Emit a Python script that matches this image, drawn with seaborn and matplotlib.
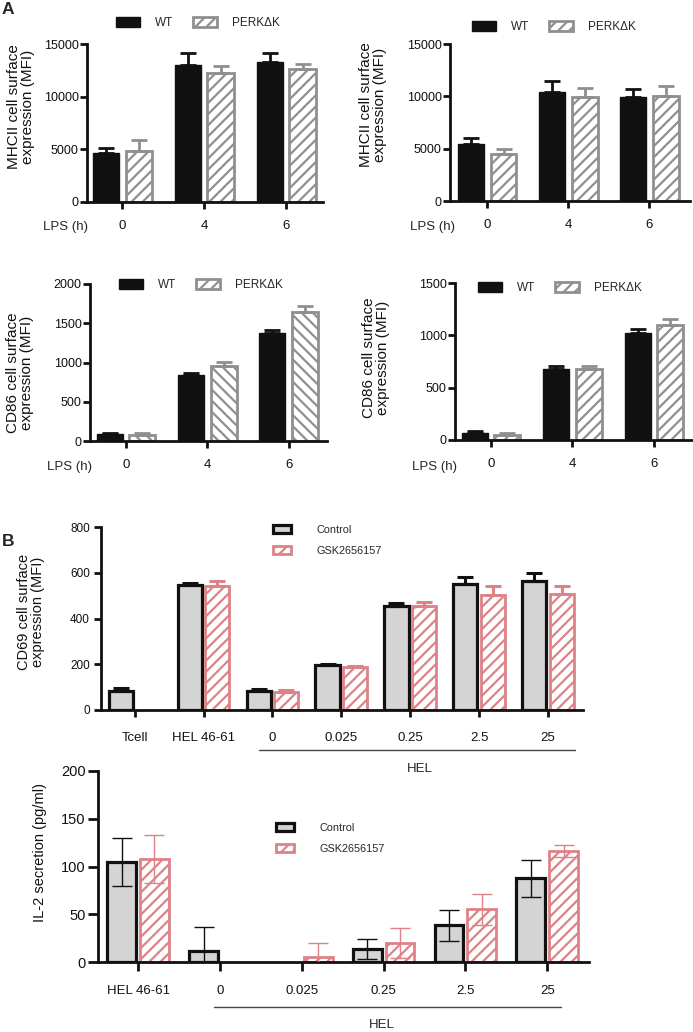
import numpy as np
import pandas as pd
import matplotlib
matplotlib.use("Agg")
import matplotlib.pyplot as plt
import seaborn as sns
from matplotlib.patches import Patch

# ---------------- data ----------------
lps_hours = ["0", "4", "6"]

mhc1_wt = [4680, 13050, 13280]
mhc1_wt_err = [470, 1050, 880]
mhc1_perk = [4870, 12220, 12600]
mhc1_perk_err = [1020, 650, 530]

mhc2_wt = [5450, 10410, 9960]
mhc2_wt_err = [600, 1020, 770]
mhc2_perk = [4490, 9900, 10030]
mhc2_perk_err = [480, 870, 980]

cd86a_wt = [85, 837, 1380]
cd86a_wt_err = [20, 30, 35]
cd86a_perk = [78, 960, 1647]
cd86a_perk_err = [22, 42, 77]

cd86b_wt = [70, 677, 1027]
cd86b_wt_err = [13, 28, 33]
cd86b_perk = [51, 677, 1101]
cd86b_perk_err = [13, 28, 57]

cd69_cats = ["Tcell", "HEL 46-61", "0", "0.025", "0.25", "2.5", "25"]
cd69_ctrl = [82, 548, 82, 196, 454, 551, 565]
cd69_ctrl_err = [14, 7, 10, 7, 14, 30, 36]
cd69_gsk = [np.nan, 541, 77, 187, 456, 503, 509]
cd69_gsk_err = [np.nan, 22, 12, 7, 17, 38, 33]

il2_cats = ["HEL 46-61", "0", "0.025", "0.25", "2.5", "25"]
il2_ctrl = [105, 11, np.nan, 14, 38.5, 87.5]
il2_ctrl_err = [25, 25.5, np.nan, 10.5, 16, 19]
il2_gsk = [108, np.nan, 5.5, 20, 55, 116]
il2_gsk_err = [25, np.nan, 14, 16, 16.5, 6.5]

groups_a = ["WT", "PERKΔK"]
groups_b = ["Control", "GSK2656157"]

# ---------------- style ----------------
sns.set_theme(style="ticks")
plt.rcParams["font.family"] = ["Liberation Sans", "DejaVu Sans"]
plt.rcParams["hatch.linewidth"] = 1.6
plt.rcParams["axes.linewidth"] = 2.0

BLACK = "#111111"
GREY = "#8f8f8f"
CTRL_FILL = "#d4d4d4"
PINK = "#dd8287"

W, H = 693, 1032
fig = plt.figure(figsize=(W / 100, H / 100), dpi=100)


def px_axes(l, t, r, b):
    return fig.add_axes([l / W, 1 - b / H, (r - l) / W, (b - t) / H])


def draw_panel(ax, cats, names, vals, errs, styles, gap, ylim, yticks, xlim,
               both_err=False, err_lw=2.0, capsize=6, ylab="", ylab_xy=(0, 0),
               ylab_size=11, ytick_size=9, xtick_size=9.5, xpad=8,
               xtick_len=5, ytick_len=5, ypad=1):
    rows = []
    for name, v, e in zip(names, vals, errs):
        for c, vi, ei in zip(cats, v, e):
            if not np.isnan(vi):
                rows.append({"cat": c, "val": vi, "err": ei, "grp": name})
    df = pd.DataFrame(rows)
    pal = {n: styles[n]["face"] for n in names}
    sns.barplot(data=df, x="cat", y="val", hue="grp", order=cats,
                hue_order=names, width=0.8, gap=gap, errorbar=None,
                palette=pal, saturation=1, legend=False, ax=ax, zorder=2)
    err_lookup = {(r["cat"], r["grp"]): r["err"] for r in rows}
    for cont, name in zip(ax.containers, names):
        st = styles[name]
        for bar in cont:
            bar.set_facecolor(st["face"])
            bar.set_edgecolor(st["edge"])
            bar.set_linewidth(st["lw"])
            if st.get("hatch"):
                bar.set_hatch(st["hatch"])
            cx = bar.get_x() + bar.get_width() / 2
            ci = int(round(cx))
            h = bar.get_height()
            e = err_lookup[(cats[ci], name)]
            lower = e if both_err else 0
            ax.errorbar(cx, h, yerr=[[lower], [e]], fmt="none",
                        ecolor=st["edge"], elinewidth=err_lw,
                        capsize=capsize, capthick=err_lw, zorder=3)
    ax.set_xlim(*xlim)
    ax.set_ylim(*ylim)
    ax.set_yticks(yticks)
    ax.set_yticklabels([str(t) for t in yticks], fontsize=ytick_size)
    ax.set_xticks(range(len(cats)))
    ax.set_xticklabels(cats, fontsize=xtick_size)
    ax.tick_params(axis="x", length=xtick_len, width=2, pad=xpad, colors=BLACK)
    ax.tick_params(axis="y", length=ytick_len, width=2, pad=ypad, colors=BLACK)
    ax.set_xlabel("")
    ax.set_ylabel(ylab, fontsize=ylab_size, linespacing=1.0, color=BLACK)
    ax.yaxis.label.set_va("center")
    ax.yaxis.label.set_ha("center")
    bb = ax.get_position()
    lx = (ylab_xy[0] / W - bb.x0) / bb.width
    ly = ((1 - ylab_xy[1] / H) - bb.y0) / bb.height
    ax.yaxis.set_label_coords(lx, ly)
    for s in ["top", "right"]:
        ax.spines[s].set_visible(False)
    for s in ["left", "bottom"]:
        ax.spines[s].set_color(BLACK)
        ax.spines[s].set_linewidth(2.0)
    return ax


styles_a = {
    "WT": {"face": BLACK, "edge": BLACK, "lw": 1.0},
    "PERKΔK": {"face": "white", "edge": GREY, "lw": 2.0, "hatch": "///"},
}
styles_a2 = {
    "WT": {"face": BLACK, "edge": BLACK, "lw": 1.0},
    "PERKΔK": {"face": "white", "edge": GREY, "lw": 2.0, "hatch": "\\\\\\"},
}
styles_b = {
    "Control": {"face": CTRL_FILL, "edge": BLACK, "lw": 2.3},
    "GSK2656157": {"face": "white", "edge": PINK, "lw": 2.0, "hatch": "///"},
}


def legend_a(ax, cx, cy):
    handles = [Patch(facecolor=BLACK, edgecolor=BLACK, lw=1),
               Patch(facecolor="white", edgecolor=GREY, lw=2, hatch="///")]
    ax.legend(handles, groups_a, loc="center", ncol=2, frameon=False,
              bbox_to_anchor=(cx / W, 1 - cy / H), bbox_transform=fig.transFigure,
              fontsize=8.5, handlelength=2.0, handleheight=1.0,
              handletextpad=1.3, columnspacing=1.7, borderpad=0, borderaxespad=0)


def legend_b(ax, lx, ty):
    handles = [Patch(facecolor=CTRL_FILL, edgecolor=BLACK, lw=2.3),
               Patch(facecolor="white", edgecolor=PINK, lw=2, hatch="///")]
    ax.legend(handles, groups_b, loc="upper left", ncol=1, frameon=False,
              bbox_to_anchor=(lx / W, 1 - ty / H), bbox_transform=fig.transFigure,
              fontsize=7.8, handlelength=1.7, handleheight=0.8,
              handletextpad=2.3, labelspacing=1.0, borderpad=0, borderaxespad=0)


ylab_mhc = "MHCII cell surface\nexpression (MFI)"
ylab_cd86 = "CD86 cell surface\nexpression (MFI)"

# ---- Panel A top-left ----
ax1 = px_axes(87, 44, 323, 202)
draw_panel(ax1, lps_hours, groups_a, [mhc1_wt, mhc1_perk],
           [mhc1_wt_err, mhc1_perk_err], styles_a, 0.2, (0, 15000),
           [0, 5000, 10000, 15000], (-0.43, 2.45), ylab=ylab_mhc,
           ylab_xy=(21, 107))
legend_a(ax1, 198, 23)
fig.text(88 / W, 1 - 227 / H, "LPS (h)", ha="right", va="center", fontsize=9.5)

# ---- Panel A top-right ----
ax2 = px_axes(450, 44, 690, 201)
draw_panel(ax2, lps_hours, groups_a, [mhc2_wt, mhc2_perk],
           [mhc2_wt_err, mhc2_perk_err], styles_a, 0.2, (0, 15000),
           [0, 5000, 10000, 15000], (-0.46, 2.5), ylab=ylab_mhc,
           ylab_xy=(373, 105))
legend_a(ax2, 554, 27)
fig.text(455 / W, 1 - 227 / H, "LPS (h)", ha="right", va="center", fontsize=9.5)

# ---- Panel A middle-left ----
ax3 = px_axes(90, 284, 327, 441)
draw_panel(ax3, lps_hours, groups_a, [cd86a_wt, cd86a_perk],
           [cd86a_wt_err, cd86a_perk_err], styles_a2, 0.2, (0, 2000),
           [0, 500, 1000, 1500, 2000], (-0.44, 2.47), ylab=ylab_cd86,
           ylab_xy=(20, 373))
legend_a(ax3, 201, 285)
fig.text(92 / W, 1 - 467 / H, "LPS (h)", ha="right", va="center", fontsize=9.5)

# ---- Panel A middle-right ----
ax4 = px_axes(455, 283, 693, 440)
draw_panel(ax4, lps_hours, groups_a, [cd86b_wt, cd86b_perk],
           [cd86b_wt_err, cd86b_perk_err], styles_a, 0.2, (0, 1500),
           [0, 500, 1000, 1500], (-0.44, 2.48), ylab=ylab_cd86,
           ylab_xy=(376, 358))
legend_a(ax4, 560, 288)
fig.text(457 / W, 1 - 467 / H, "LPS (h)", ha="right", va="center", fontsize=9.5)

# ---- Panel B top ----
ax5 = px_axes(101, 527, 583, 710)
draw_panel(ax5, cd69_cats, groups_b, [cd69_ctrl, cd69_gsk],
           [cd69_ctrl_err, cd69_gsk_err], styles_b, 0.12, (0, 800),
           [0, 200, 400, 600, 800], (-0.49, 6.51), err_lw=2.2, capsize=5.5,
           ylab="CD69 cell surface\nexpression (MFI)", ylab_xy=(31, 612),
           ylab_size=10.5, ytick_size=8.5, xtick_size=9.5, xpad=11, ypad=3)
legend_b(ax5, 273, 525)
trans5 = matplotlib.transforms.blended_transform_factory(ax5.transData, fig.transFigure)
ax5.plot([2 - 0.19, 6 + 0.39], [1 - 750 / H] * 2, transform=trans5,
         color="#444444", lw=1.0, clip_on=False)
fig.text(420 / W, 1 - 769 / H, "HEL", ha="center", va="center", fontsize=9.5)

# ---- Panel B bottom ----
ax6 = px_axes(98, 771, 589, 962)
draw_panel(ax6, il2_cats, groups_b, [il2_ctrl, il2_gsk],
           [il2_ctrl_err, il2_gsk_err], styles_b, 0.12, (0, 200),
           [0, 50, 100, 150, 200], (-0.49, 5.51), both_err=True, err_lw=1.0,
           capsize=7.5, ylab="IL-2 secretion (pg/ml)", ylab_xy=(40, 852),
           ylab_size=10.5, ytick_size=10.5, xtick_size=9.5, xpad=10,
           xtick_len=6.5, ytick_len=7, ypad=2)
legend_b(ax6, 276, 823)
trans6 = matplotlib.transforms.blended_transform_factory(ax6.transData, fig.transFigure)
ax6.plot([1 - 0.07, 5 + 0.17], [1 - 1007 / H] * 2, transform=trans6,
         color="#444444", lw=1.0, clip_on=False)
fig.text(382 / W, 1 - 1025 / H, "HEL", ha="center", va="center", fontsize=9.5)

# panel letters
fig.text(2 / W, 1 - 9 / H, "A", fontsize=12.5, fontweight="bold", va="center")
fig.text(2 / W, 1 - 542 / H, "B", fontsize=12.5, fontweight="bold", va="center")

fig.savefig("out.png", dpi=100)
